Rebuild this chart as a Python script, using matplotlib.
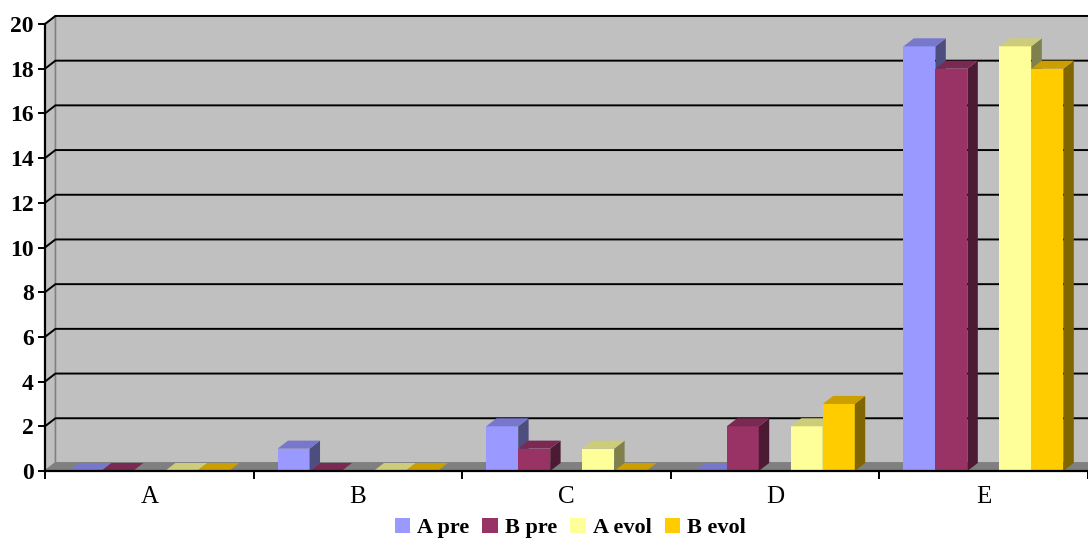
import matplotlib
matplotlib.use("Agg")
import matplotlib.pyplot as plt
from matplotlib.patches import Polygon, Rectangle, Patch
import numpy as np

categorias = ["A", "B", "C", "D", "E"]
series = ["A pre", "B pre", "A evol", "B evol"]
a_pre = [0, 1, 2, 0, 19]
b_pre = [0, 0, 1, 2, 18]
a_evol = [0, 0, 1, 2, 19]
b_evol = [0, 0, 0, 3, 18]

# cores: frente, topo, lateral
cores = {
    "A pre": ("#9999FF", "#7777CC", "#4D4D80"),
    "B pre": ("#993366", "#7A2952", "#4D1A33"),
    "A evol": ("#FFFF99", "#CCCC7A", "#80804D"),
    "B evol": ("#FFCC00", "#CC9F00", "#806600"),
}
valores = {"A pre": a_pre, "B pre": b_pre, "A evol": a_evol, "B evol": b_evol}
slots = {"A pre": 0, "B pre": 1, "A evol": 3, "B evol": 4}

serif = "Liberation Serif"
fig = plt.figure(figsize=(10.88, 5.39), dpi=100)
ax = fig.add_axes([45 / 1088, 68 / 539, 1043 / 1088, 447 / 539])
ax.set_xlim(0, 5)
ax.set_ylim(0, 20)
ax.patch.set_visible(False)

# profundidade do efeito 3D (unidades de dados)
dx, dy = 0.05, 0.36
ymax = 20

# paredes e piso
ax.add_patch(Polygon([(dx, dy), (5 + dx, dy), (5 + dx, ymax + dy), (dx, ymax + dy)],
                     closed=True, fc="#C0C0C0", ec="#808080", lw=1.2, zorder=0, clip_on=False))
ax.add_patch(Polygon([(0, 0), (dx, dy), (dx, ymax + dy), (0, ymax)],
                     closed=True, fc="#C0C0C0", ec="#808080", lw=1.2, zorder=0, clip_on=False))
ax.add_patch(Polygon([(0, 0), (5, 0), (5 + dx, dy), (dx, dy)],
                     closed=True, fc="#808080", ec="#808080", lw=0.8, zorder=0.5, clip_on=False))

# grade na parede do fundo
for v in range(2, 21, 2):
    ax.plot([0, dx, 5 + dx], [v, v + dy, v + dy], color="black", lw=1.4, zorder=0.8, clip_on=False)

# barras 3D
w = 0.1534
off = 0.115
z = 2
for i in range(len(categorias)):
    for s in series:
        v = valores[s][i]
        x = i + off + slots[s] * w
        fr, tp, sd = cores[s]
        if v > 0:
            ax.add_patch(Rectangle((x, 0), w, v, fc=fr, ec="none", zorder=z, clip_on=False))
            ax.add_patch(Polygon([(x + w, 0), (x + w + dx, dy), (x + w + dx, v + dy), (x + w, v)],
                                 closed=True, fc=sd, ec="none", zorder=z, clip_on=False))
        ax.add_patch(Polygon([(x, v), (x + w, v), (x + w + dx, v + dy), (x + dx, v + dy)],
                             closed=True, fc=tp, ec="none", zorder=z, clip_on=False))
        z += 0.01

for lado in ("top", "right"):
    ax.spines[lado].set_visible(False)
for lado in ("left", "bottom"):
    ax.spines[lado].set_linewidth(1.6)
    ax.spines[lado].set_zorder(10)

ax.set_yticks(range(0, 21, 2))
ax.set_yticklabels([str(v) for v in range(0, 21, 2)], fontsize=17, fontweight="bold", family=serif)
ax.tick_params(axis="y", direction="out", length=5, width=1.4, pad=3)

ax.set_xticks(range(0, 6))
ax.set_xticklabels([])
ax.set_xticks(np.arange(0.5, 5, 1), minor=True)
ax.set_xticklabels(categorias, minor=True, fontsize=18, family=serif)
ax.tick_params(axis="x", which="major", direction="out", length=6, width=1.4)
ax.tick_params(axis="x", which="minor", length=0, pad=11)

handles = [Patch(fc=cores[s][0], ec="none") for s in series]
fig.legend(handles, series, loc="center", bbox_to_anchor=(0.524, 0.02), ncol=4, frameon=False,
           prop={"family": serif, "weight": "bold", "size": 16},
           handlelength=0.7, handleheight=0.7, handletextpad=0.3, columnspacing=0.6)

fig.savefig("out.png", dpi=100)
